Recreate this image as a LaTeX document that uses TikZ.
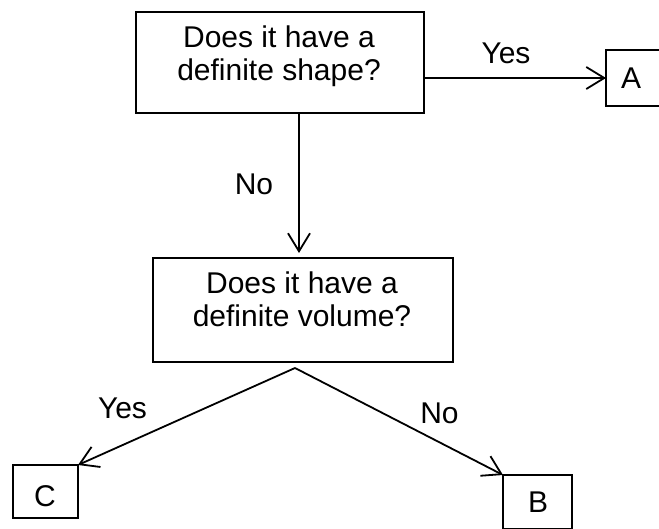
\documentclass[tikz,border=0pt]{standalone}
\usepackage{fontspec}
\setmainfont{Liberation Sans}
\usetikzlibrary{arrows.meta}
\begin{document}
\begin{tikzpicture}[x=0.5pt,y=-0.5pt,
  box/.style={draw,line width=0.9pt,inner sep=0pt,outer sep=0pt},
  txt/.style={inner sep=0pt,outer sep=0pt,align=center,font=\fontsize{15}{16.5}\selectfont},
  lbl/.style={inner sep=0pt,font=\fontsize{15}{16.5}\selectfont},
  arr/.style={line width=0.9pt,-{Straight Barb[length=9pt,width=11pt,line width=0.9pt]}}]
\useasboundingbox (0,0) rectangle (659,529);
% boxes
\node[box,minimum width=144pt,minimum height=50.5pt] (q1) at (280,62.5) {};
\node[txt,anchor=north] (q1t) at (279,26) {Does it have a\\definite shape?};
\node[box,minimum width=150pt,minimum height=52pt] (q2) at (303,310) {};
\node[txt,anchor=north] (q2t) at (302,272) {Does it have a\\definite volume?};
\node[box,minimum width=28pt,minimum height=28pt] (A) at (634,78) {};
\node[lbl] (At) at (631,78) {A};
\node[box,minimum width=34.5pt,minimum height=27pt] (B) at (537.5,502) {};
\node[lbl] (Bt) at (538,502) {B};
\node[box,minimum width=32.5pt,minimum height=26.5pt] (C) at (45.5,491.5) {};
\node[lbl] (Ct) at (45,496) {C};
% helper coordinates
\coordinate (vx) at (299,0);
\coordinate (split) at (295,368);
% connectors
\draw[arr] (q1.east |- A.west) -- (A.west);
\draw[arr,shorten >=2.5pt] (q1.south -| vx) -- (q2.north -| vx);
\draw[arr] (split) -- (C.north east);
\draw[arr] (split) -- (B.north west);
% labels
\node[lbl] (yes1) at (506,53.5) {Yes};
\node[lbl] (no1) at (254,184) {No};
\node[lbl] (yes2) at (122.5,408) {Yes};
\node[lbl] (no2) at (439.5,413) {No};
\end{tikzpicture}
\end{document}
